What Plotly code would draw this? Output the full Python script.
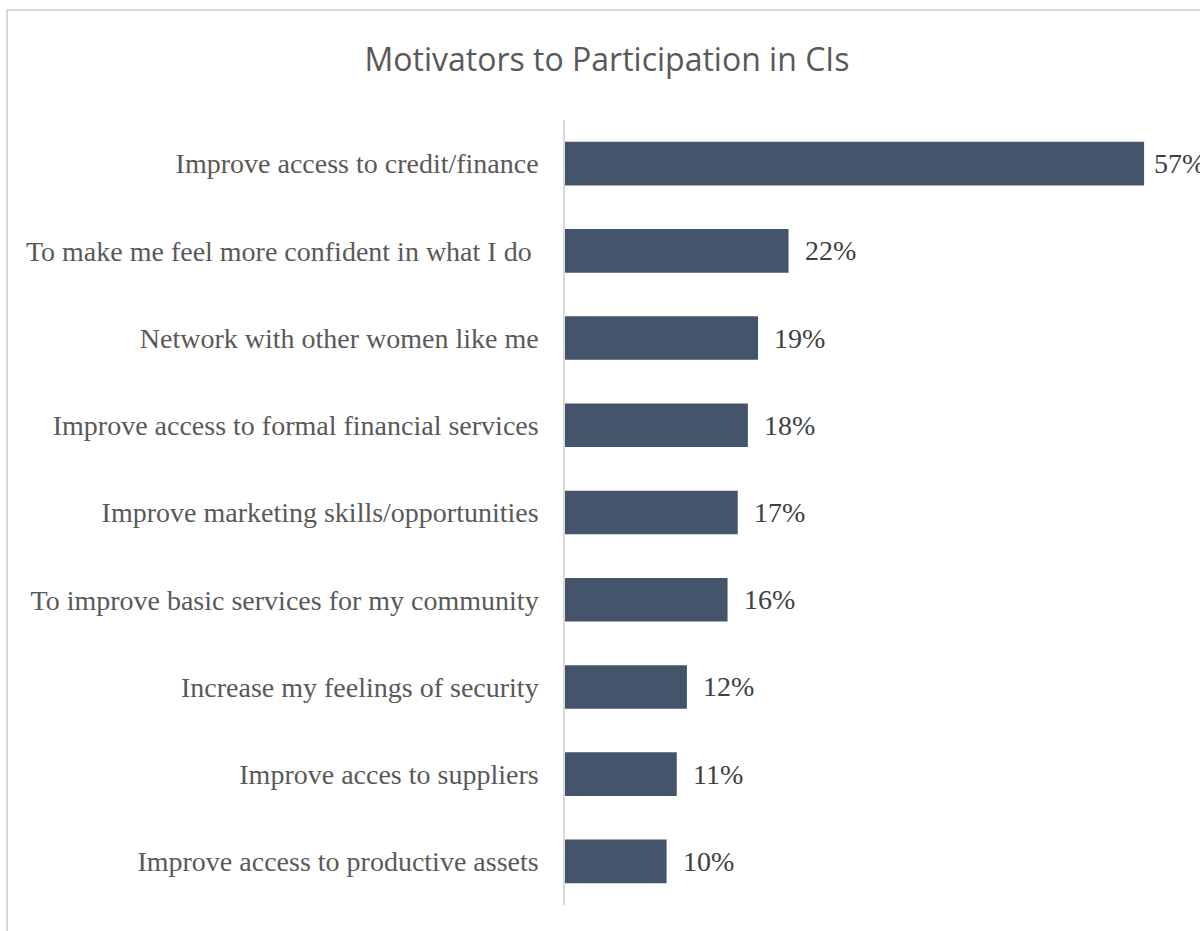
import plotly.graph_objects as go

categories = [
    "Improve access to credit/finance",
    "To make me feel more confident in what I do ",
    "Network with other women like me",
    "Improve access to formal financial services",
    "Improve marketing skills/opportunities",
    "To improve basic services for my community",
    "Increase my feelings of security",
    "Improve acces to suppliers",
    "Improve access to productive assets",
]
values = [57, 22, 19, 18, 17, 16, 12, 11, 10]
value_labels = ["57%", "22%", "19%", "18%", "17%", "16%", "12%", "11%", "10%"]

W, H = 1200, 931
L, R, T, B = 565, 0, 120, 26
plot_w = W - L - R
plot_h = H - T - B
x_max = plot_w / 10.16

bar_color = "#44546A"
label_color = "#595959"
value_color = "#404040"
frame_color = "#D9D9D9"

fig = go.Figure(
    go.Bar(
        x=values,
        y=categories,
        orientation="h",
        marker=dict(color=bar_color, line=dict(width=0)),
        width=0.5,
        hoverinfo="skip",
    )
)

for i, (cat, v, lab) in enumerate(zip(categories, values, value_labels)):
    # the longest bar's label is pulled in closer so it sits at the chart edge
    fig.add_annotation(
        x=v, y=cat, text=lab, xanchor="left", yanchor="middle",
        xshift=8 if i == 0 else 14, showarrow=False,
        font=dict(family="Liberation Serif", size=28, color=value_color),
    )

def px_x(p):
    return (p - L) / plot_w

def px_y(p):
    return (H - B - p) / plot_h

# outer chart frame
fig.add_shape(type="rect", xref="paper", yref="paper",
              x0=px_x(7), x1=px_x(1260), y0=px_y(980), y1=px_y(10),
              line=dict(color=frame_color, width=2), fillcolor="rgba(0,0,0,0)",
              layer="below")

fig.update_layout(
    width=W, height=H,
    margin=dict(l=L, r=R, t=T, b=B, autoexpand=False),
    paper_bgcolor="white", plot_bgcolor="white",
    showlegend=False,
    title=dict(
        text="Motivators to Participation in CIs",
        x=607 / W, xanchor="center", y=1 - 60 / H, yanchor="middle",
        font=dict(family="Open Sans", size=32, color="#595959"),
    ),
    xaxis=dict(range=[0, x_max], visible=False, fixedrange=True),
    yaxis=dict(
        categoryorder="array", categoryarray=categories[::-1],
        showline=True, linecolor=frame_color, linewidth=1.5,
        showgrid=False, zeroline=False, ticks="",
        ticklabelstandoff=19,
        tickfont=dict(family="Liberation Serif", size=28, color=label_color),
        fixedrange=True,
    ),
)

fig.write_html("out.html")
